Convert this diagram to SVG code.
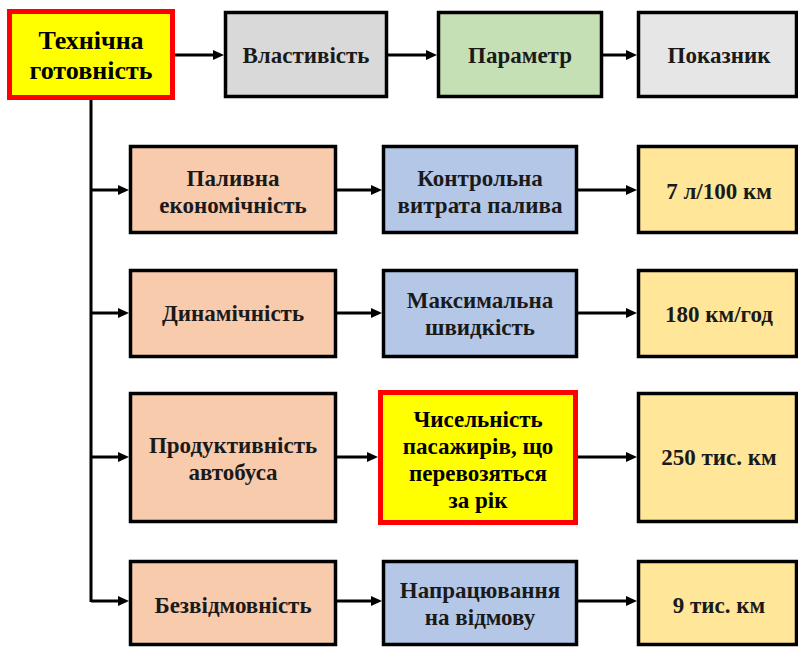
<svg xmlns="http://www.w3.org/2000/svg" width="798" height="647" viewBox="0 0 798 647">
<defs>
<marker id="ah" markerUnits="userSpaceOnUse" markerWidth="12" markerHeight="12" viewBox="0 0 12 12" refX="3" refY="6" orient="auto">
<path d="M0,1 L11,6 L0,11 z" fill="#000"/>
</marker>
</defs>
<rect width="798" height="647" fill="#fff"/>
<g id="connectors" fill="none" stroke="#000" stroke-width="3">
<path d="M175,55 H216" marker-end="url(#ah)"/>
<path d="M388,55 H429" marker-end="url(#ah)"/>
<path d="M603,55 H629" marker-end="url(#ah)"/>
<path d="M91,100 V602"/>
<path d="M91,190 H121" marker-end="url(#ah)"/>
<path d="M91,313 H121" marker-end="url(#ah)"/>
<path d="M91,457 H121" marker-end="url(#ah)"/>
<path d="M91,601 H121" marker-end="url(#ah)"/>
<path d="M337,190 H374" marker-end="url(#ah)"/>
<path d="M337,313 H374" marker-end="url(#ah)"/>
<path d="M337,457 H370" marker-end="url(#ah)"/>
<path d="M337,601 H374" marker-end="url(#ah)"/>
<path d="M578,190 H629" marker-end="url(#ah)"/>
<path d="M578,313 H629" marker-end="url(#ah)"/>
<path d="M578,457 H629" marker-end="url(#ah)"/>
<path d="M578,601 H629" marker-end="url(#ah)"/>
</g>
<g id="n-tech">
<rect x="9.5" y="11.5" width="163" height="86" fill="#ffff00" stroke="#ff0000" stroke-width="5"/>
<text x="91" y="49" font-family="Times New Roman, Tinos, Liberation Serif, serif" font-weight="bold" font-size="26" text-anchor="middle" fill="#000">Технічна</text>
<text x="91" y="79" font-family="Times New Roman, Tinos, Liberation Serif, serif" font-weight="bold" font-size="26" text-anchor="middle" fill="#000">готовність</text>
</g>
<g id="n-vlast">
<rect x="225.5" y="12.5" width="161" height="84" fill="#d9d9d9" stroke="#000" stroke-width="3.5"/>
<text x="306" y="63" font-family="Times New Roman, Tinos, Liberation Serif, serif" font-weight="bold" font-size="23" text-anchor="middle" fill="#1a1a1a">Властивість</text>
</g>
<g id="n-param">
<rect x="438.5" y="12.5" width="163" height="84" fill="#c5e0b4" stroke="#000" stroke-width="3.5"/>
<text x="520" y="63" font-family="Times New Roman, Tinos, Liberation Serif, serif" font-weight="bold" font-size="23" text-anchor="middle" fill="#1a1a1a">Параметр</text>
</g>
<g id="n-pokaz">
<rect x="638.5" y="12.5" width="158" height="84" fill="#e7e6e6" stroke="#000" stroke-width="3.5"/>
<text x="719" y="63" font-family="Times New Roman, Tinos, Liberation Serif, serif" font-weight="bold" font-size="23" text-anchor="middle" fill="#1a1a1a">Показник</text>
</g>
<g id="n-palyvna">
<rect x="130.5" y="146.5" width="205" height="86" fill="#f8cbad" stroke="#000" stroke-width="3.5"/>
<text x="233" y="186" font-family="Times New Roman, Tinos, Liberation Serif, serif" font-weight="bold" font-size="23" text-anchor="middle" fill="#1a1a1a">Паливна</text>
<text x="233" y="213" font-family="Times New Roman, Tinos, Liberation Serif, serif" font-weight="bold" font-size="23" text-anchor="middle" fill="#1a1a1a">економічність</text>
</g>
<g id="n-kontrol">
<rect x="383.5" y="146.5" width="193" height="86" fill="#b4c7e7" stroke="#000" stroke-width="3.5"/>
<text x="480" y="186" font-family="Times New Roman, Tinos, Liberation Serif, serif" font-weight="bold" font-size="23" text-anchor="middle" fill="#1a1a1a">Контрольна</text>
<text x="480" y="213" font-family="Times New Roman, Tinos, Liberation Serif, serif" font-weight="bold" font-size="23" text-anchor="middle" fill="#1a1a1a">витрата палива</text>
</g>
<g id="n-7l">
<rect x="638.5" y="146.5" width="158" height="86" fill="#ffe699" stroke="#000" stroke-width="3.5"/>
<text x="719" y="199" font-family="Times New Roman, Tinos, Liberation Serif, serif" font-weight="bold" font-size="23" text-anchor="middle" fill="#1a1a1a">7 л/100 км</text>
</g>
<g id="n-dyn">
<rect x="130.5" y="270.5" width="205" height="86" fill="#f8cbad" stroke="#000" stroke-width="3.5"/>
<text x="233" y="321" font-family="Times New Roman, Tinos, Liberation Serif, serif" font-weight="bold" font-size="23" text-anchor="middle" fill="#1a1a1a">Динамічність</text>
</g>
<g id="n-maxv">
<rect x="383.5" y="270.5" width="193" height="86" fill="#b4c7e7" stroke="#000" stroke-width="3.5"/>
<text x="480" y="308" font-family="Times New Roman, Tinos, Liberation Serif, serif" font-weight="bold" font-size="23" text-anchor="middle" fill="#1a1a1a">Максимальна</text>
<text x="480" y="335" font-family="Times New Roman, Tinos, Liberation Serif, serif" font-weight="bold" font-size="23" text-anchor="middle" fill="#1a1a1a">швидкість</text>
</g>
<g id="n-180">
<rect x="638.5" y="270.5" width="158" height="86" fill="#ffe699" stroke="#000" stroke-width="3.5"/>
<text x="719" y="322" font-family="Times New Roman, Tinos, Liberation Serif, serif" font-weight="bold" font-size="23" text-anchor="middle" fill="#1a1a1a">180 км/год</text>
</g>
<g id="n-prod">
<rect x="130.5" y="393.5" width="205" height="128" fill="#f8cbad" stroke="#000" stroke-width="3.5"/>
<text x="233" y="453" font-family="Times New Roman, Tinos, Liberation Serif, serif" font-weight="bold" font-size="23" text-anchor="middle" fill="#1a1a1a">Продуктивність</text>
<text x="233" y="480" font-family="Times New Roman, Tinos, Liberation Serif, serif" font-weight="bold" font-size="23" text-anchor="middle" fill="#1a1a1a">автобуса</text>
</g>
<g id="n-chys">
<rect x="380.5" y="392.5" width="195" height="130" fill="#ffff00" stroke="#ff0000" stroke-width="5"/>
<text x="478" y="427" font-family="Times New Roman, Tinos, Liberation Serif, serif" font-weight="bold" font-size="23" text-anchor="middle" fill="#000">Чисельність</text>
<text x="478" y="454" font-family="Times New Roman, Tinos, Liberation Serif, serif" font-weight="bold" font-size="23" text-anchor="middle" fill="#000">пасажирів, що</text>
<text x="478" y="481" font-family="Times New Roman, Tinos, Liberation Serif, serif" font-weight="bold" font-size="23" text-anchor="middle" fill="#000">перевозяться</text>
<text x="478" y="508" font-family="Times New Roman, Tinos, Liberation Serif, serif" font-weight="bold" font-size="23" text-anchor="middle" fill="#000">за рік</text>
</g>
<g id="n-250">
<rect x="638.5" y="393.5" width="158" height="128" fill="#ffe699" stroke="#000" stroke-width="3.5"/>
<text x="719" y="465" font-family="Times New Roman, Tinos, Liberation Serif, serif" font-weight="bold" font-size="23" text-anchor="middle" fill="#1a1a1a">250 тис. км</text>
</g>
<g id="n-bezv">
<rect x="130.5" y="561.5" width="205" height="83" fill="#f8cbad" stroke="#000" stroke-width="3.5"/>
<text x="233" y="613" font-family="Times New Roman, Tinos, Liberation Serif, serif" font-weight="bold" font-size="23" text-anchor="middle" fill="#1a1a1a">Безвідмовність</text>
</g>
<g id="n-naprac">
<rect x="383.5" y="561.5" width="193" height="83" fill="#b4c7e7" stroke="#000" stroke-width="3.5"/>
<text x="480" y="598" font-family="Times New Roman, Tinos, Liberation Serif, serif" font-weight="bold" font-size="23" text-anchor="middle" fill="#1a1a1a">Напрацювання</text>
<text x="480" y="625" font-family="Times New Roman, Tinos, Liberation Serif, serif" font-weight="bold" font-size="23" text-anchor="middle" fill="#1a1a1a">на відмову</text>
</g>
<g id="n-9">
<rect x="638.5" y="561.5" width="158" height="83" fill="#ffe699" stroke="#000" stroke-width="3.5"/>
<text x="719" y="613" font-family="Times New Roman, Tinos, Liberation Serif, serif" font-weight="bold" font-size="23" text-anchor="middle" fill="#1a1a1a">9 тис. км</text>
</g>
</svg>
